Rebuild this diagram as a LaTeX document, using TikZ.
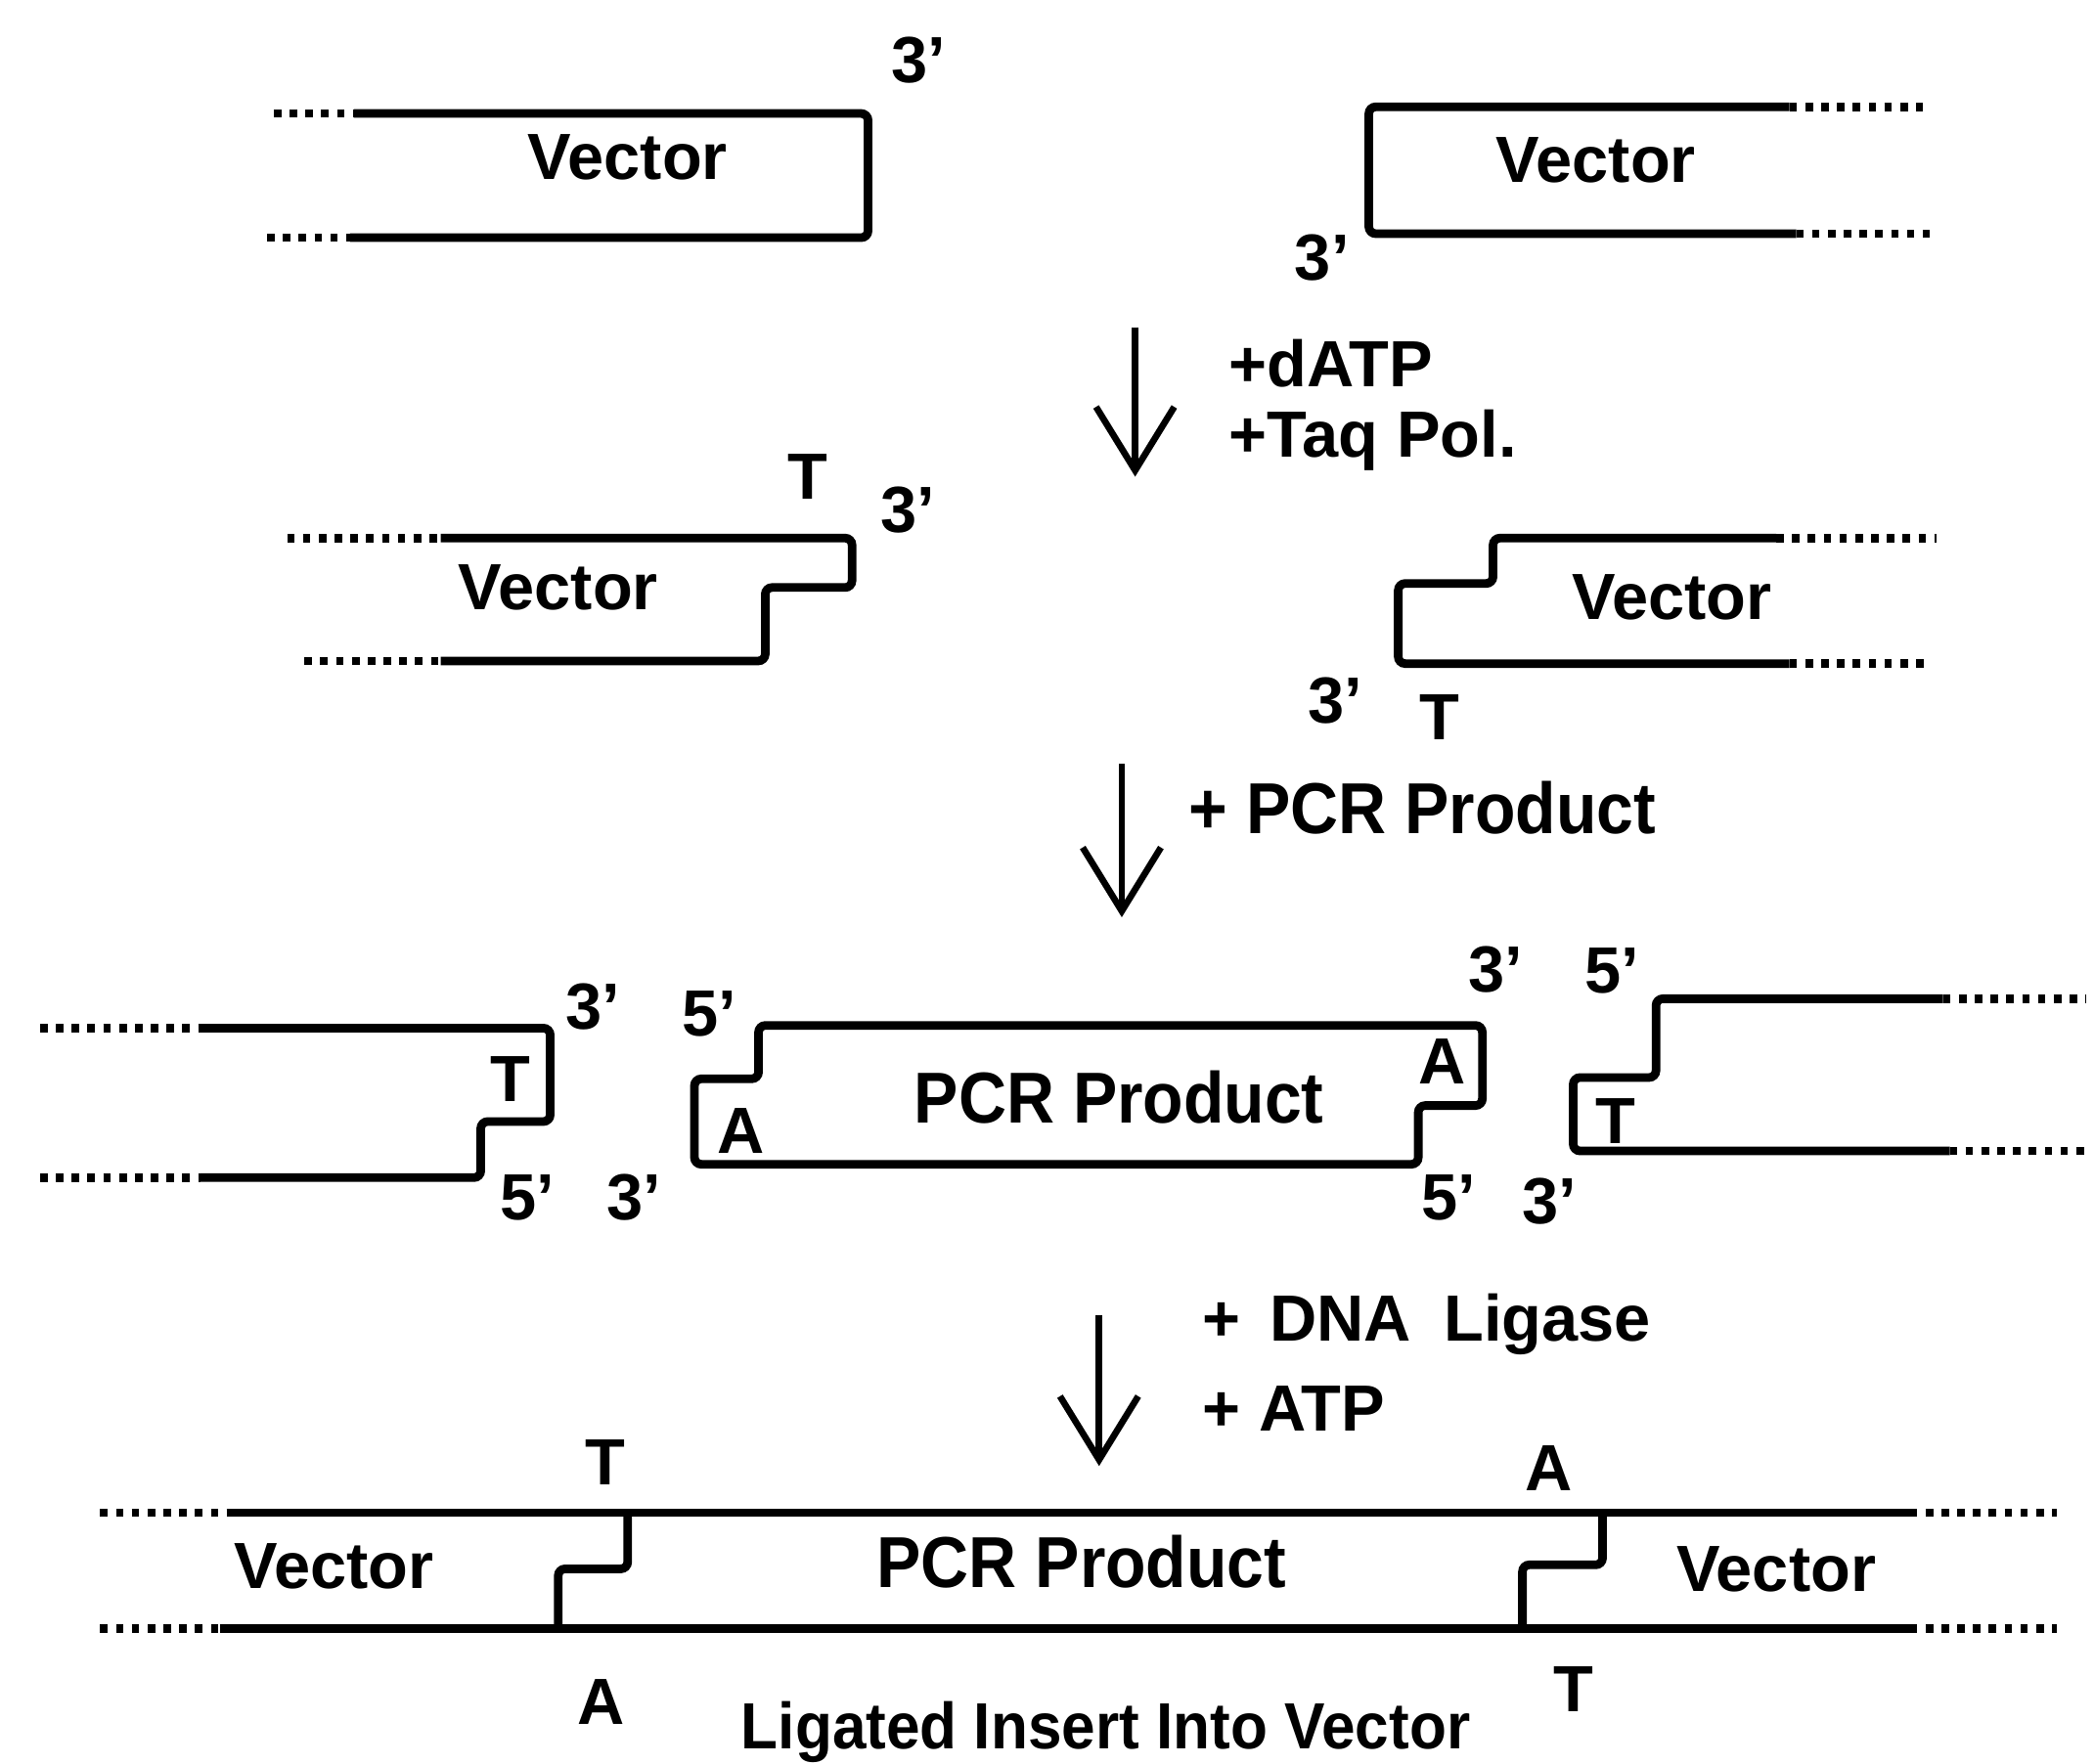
\documentclass[tikz,border=0pt]{standalone}
\usepackage{fontspec}
\setmainfont{Liberation Sans}
\usepackage{tikz}
\usetikzlibrary{arrows.meta}
\tikzset{
  strand/.style={line width=2.5pt,rounded corners=2pt},
  tail/.style={line width=2.5pt,dash pattern=on 2.2pt off 2.4pt},
  lbl/.style={font=\bfseries\fontsize{19}{20}\selectfont,inner sep=0pt},
  biglbl/.style={font=\bfseries\fontsize{21}{22}\selectfont\addfontfeature{FakeStretch=0.92},inner sep=0pt},
  flow/.style={line width=1.9pt,-{Straight Barb[length=6.5mm,width=8mm,line width=1.9pt]}}
}
\begin{document}
\begin{tikzpicture}[x=0.013655cm,y=-0.013655cm]
\useasboundingbox (0,0) rectangle (1568,1321);
% cut vector
\draw[strand] (265,85)--(650,85)--(650,178)--(262,178);
\draw[tail] (205,85)--(265,85);
\draw[tail] (200,178)--(262,178);
\draw[strand] (1340,80)--(1025,80)--(1025,175)--(1345,175);
\draw[tail] (1340,80)--(1440,80);
\draw[tail] (1345,175)--(1445,175);
\node[lbl] (vecA) at (470,118) {Vector};
\node[lbl] (vecB) at (1195,120) {Vector};
\node[lbl] (endA) at (688,45) {3'};
\node[lbl] (endB) at (990,193) {3'};
% tailing
\coordinate (s1) at (850,245);
\coordinate (e1) at (850,357);
\draw[flow] (s1)--(e1);
\node[lbl,anchor=west] (datp) at (920,272) {+dATP};
\node[lbl,anchor=west] (taq) at (920,330) {+Taq Pol.};
% T-vector
\draw[strand] (330,403)--(638,403)--(638,440)--(573,440)--(573,495)--(330,495);
\draw[tail] (215,403)--(330,403);
\draw[tail] (228,495)--(330,495);
\draw[strand] (1330,403)--(1118,403)--(1118,437)--(1047,437)--(1047,497)--(1340,497);
\draw[tail] (1330,403)--(1450,403);
\draw[tail] (1340,497)--(1445,497);
\node[lbl] (vecC) at (418,440) {Vector};
\node[lbl] (vecD) at (1252,447) {Vector};
\node[lbl] (tA) at (605,357) {T};
\node[lbl] (endC) at (680,382) {3'};
\node[lbl] (endD) at (1000,525) {3'};
\node[lbl] (tB) at (1078,537) {T};
% insert
\coordinate (s2) at (840,572);
\coordinate (e2) at (840,687);
\draw[flow] (s2)--(e2);
\node[biglbl,anchor=west] (pcrin) at (890,605) {+ PCR Product};
\draw[strand] (150,770)--(412,770)--(412,840)--(360,840)--(360,882)--(150,882);
\draw[tail] (30,770)--(150,770);
\draw[tail] (30,882)--(150,882);
\draw[strand] (568,768)--(1110,768)--(1110,828)--(1062,828)--(1062,872)--(520,872)--(520,808)--(568,808)--cycle;
\draw[strand] (1455,748)--(1240,748)--(1240,807)--(1178,807)--(1178,862)--(1460,862);
\draw[tail] (1455,748)--(1562,748);
\draw[tail] (1460,862)--(1562,862);
\node[lbl] (tC) at (382,808) {T};
\node[lbl] (endE) at (444,754) {3'};
\node[lbl] (endF) at (395,897) {5'};
\node[lbl] (endG) at (475,897) {3'};
\node[lbl] (aA) at (555,847) {A};
\node[biglbl] (pcrA) at (838,822) {PCR Product};
\node[lbl] (aB) at (1080,795) {A};
\node[lbl] (endH) at (531,759) {5'};
\node[lbl] (endI) at (1120,726) {3'};
\node[lbl] (endJ) at (1207,727) {5'};
\node[lbl] (endK) at (1085,897) {5'};
\node[lbl] (endL) at (1160,900) {3'};
\node[lbl] (tD) at (1210,840) {T};
% ligation
\coordinate (s3) at (823,985);
\coordinate (e3) at (823,1098);
\draw[flow] (s3)--(e3);
\node[lbl,anchor=west] (lig) at (900,992) {+\hspace{0.45em}DNA\hspace{0.5em}Ligase};
\node[lbl,anchor=west] (atp) at (900,1055) {+ ATP};
\draw[tail] (75,1133)--(170,1133);
\draw[strand] (170,1133)--(1430,1133);
\draw[tail] (1430,1133)--(1540,1133);
\draw[tail] (75,1220)--(165,1220);
\draw[strand] (165,1220)--(1430,1220);
\draw[tail] (1430,1220)--(1540,1220);
\draw[strand] (470,1133)--(470,1175)--(418,1175)--(418,1220);
\draw[strand] (1200,1133)--(1200,1172)--(1140,1172)--(1140,1220);
\node[lbl] (vecE) at (250,1173) {Vector};
\node[biglbl] (pcrB) at (810,1170) {PCR Product};
\node[lbl] (vecF) at (1330,1175) {Vector};
\node[lbl] (tE) at (453,1095) {T};
\node[lbl] (aC) at (1160,1100) {A};
\node[lbl] (aD) at (450,1275) {A};
\node[lbl] (tF) at (1178,1265) {T};
\node[lbl,font=\bfseries\fontsize{19}{20}\selectfont\addfontfeature{FakeStretch=0.93}] (title) at (828,1297) {Ligated Insert Into Vector};
\end{tikzpicture}
\end{document}
